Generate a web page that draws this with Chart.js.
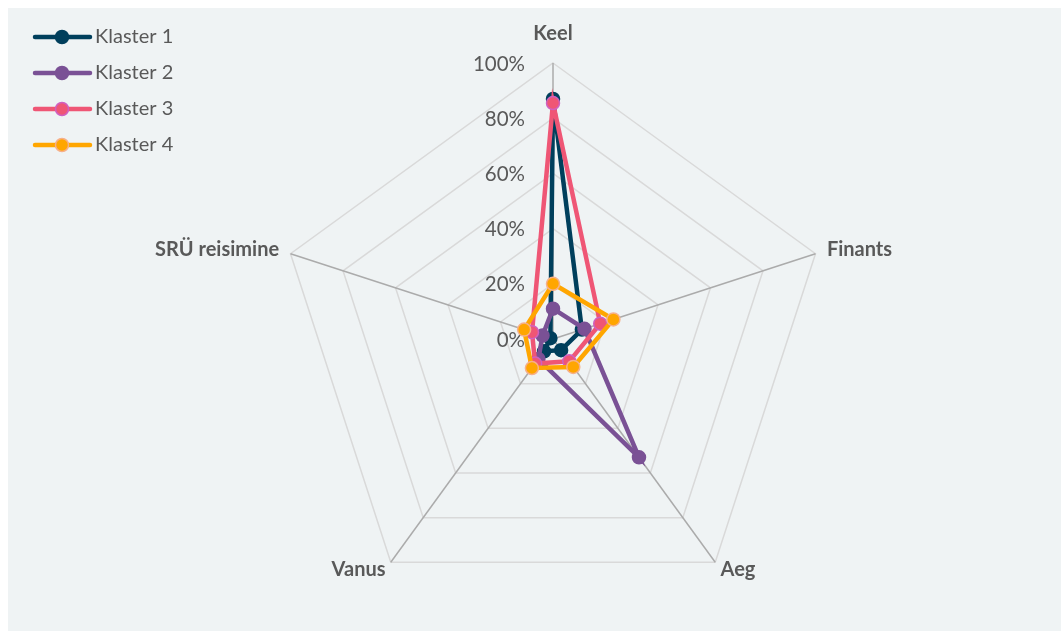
<!DOCTYPE html>
<html>
<head>
<meta charset="utf-8">
<script src="https://cdn.jsdelivr.net/npm/chart.js"></script>
<style>
    body { margin: 0; background: #ffffff; }
    #marco { position: absolute; left: 8px; top: 8px; width: 1053px; height: 623px; background: #eff3f4; }
</style>
</head>
<body>
<div id="marco"><canvas id="grafico-radar"></canvas></div>
<script>
const etiquetas = ['Keel', 'Finants', 'Aeg', 'Vanus', 'SRÜ reisimine'];
const nombresSeries = ['Klaster 1', 'Klaster 2', 'Klaster 3', 'Klaster 4'];
const klaster1 = [87, 11, 5, 5.5, 1];
const klaster2 = [11, 12, 53, 9, 4];
const klaster3 = [85.5, 18, 10, 11, 8];
const klaster4 = [20, 23, 12.5, 13, 11];
const valoresTicks = [0, 20, 40, 60, 80, 100];

document.addEventListener('DOMContentLoaded', function() {
    const colorTexto = '#595959';
    const fuente = 'Lato, "Open Sans", sans-serif';

    // Etiquetas de ejes, ticks y leyenda dibujados a mano
    const textosRadar = {
        id: 'textosRadar',
        beforeDatasetsDraw(chart) {
            const ctx = chart.ctx;
            const r = chart.scales.r;
            ctx.save();
            ctx.fillStyle = colorTexto;
            ctx.textBaseline = 'middle';
            ctx.textAlign = 'right';
            ctx.font = '20.5px ' + fuente;
            valoresTicks.forEach(v => {
                const y = r.yCenter - r.getDistanceFromCenterForValue(v);
                ctx.fillText(v + '%', r.xCenter - 28, y + 1);
            });
            ctx.restore();
        },
        afterDraw(chart) {
            const ctx = chart.ctx;
            const r = chart.scales.r;
            const separacion = [29, 12, 9, 9, 12];
            const alineacion = ['center', 'left', 'left', 'right', 'right'];
            ctx.save();
            ctx.fillStyle = colorTexto;
            ctx.textBaseline = 'middle';
            ctx.font = 'bold 20px ' + fuente;
            etiquetas.forEach((txt, i) => {
                const p = r.getPointPosition(i, r.drawingArea + separacion[i]);
                ctx.textAlign = alineacion[i];
                ctx.fillText(txt, p.x, p.y);
            });

            // Leyenda
            ctx.font = '20px ' + fuente;
            ctx.textAlign = 'left';
            chart.data.datasets.forEach((ds, i) => {
                const y = 29 + 36 * i;
                ctx.strokeStyle = ds.borderColor;
                ctx.lineWidth = 4.5;
                ctx.lineCap = 'round';
                ctx.beginPath();
                ctx.moveTo(27, y);
                ctx.lineTo(82, y);
                ctx.stroke();
                ctx.beginPath();
                ctx.arc(54, y, 6.5, 0, Math.PI * 2);
                ctx.fillStyle = ds.pointBackgroundColor;
                ctx.fill();
                ctx.lineWidth = 1.5;
                ctx.strokeStyle = ds.pointBorderColor;
                ctx.stroke();
                ctx.fillStyle = colorTexto;
                ctx.fillText(ds.label, 87, y);
            });
            ctx.restore();
        }
    };

    const ctx = document.getElementById('grafico-radar').getContext('2d');
    new Chart(ctx, {
        type: 'radar',
        data: {
            labels: etiquetas,
            datasets: [
                {
                    label: nombresSeries[0],
                    data: klaster1,
                    borderColor: '#003f5c',
                    pointBackgroundColor: '#003f5c',
                    pointBorderColor: '#003f5c',
                    order: 4
                },
                {
                    label: nombresSeries[1],
                    data: klaster2,
                    borderColor: '#7a5195',
                    pointBackgroundColor: '#7a5195',
                    pointBorderColor: '#7a5195',
                    order: 3
                },
                {
                    label: nombresSeries[2],
                    data: klaster3,
                    borderColor: '#ef5675',
                    pointBackgroundColor: '#ef5675',
                    pointBorderColor: '#d060c0',
                    order: 2
                },
                {
                    label: nombresSeries[3],
                    data: klaster4,
                    borderColor: '#ffa600',
                    pointBackgroundColor: '#ffa600',
                    pointBorderColor: '#f6b08a',
                    order: 1
                }
            ]
        },
        options: {
            responsive: true,
            maintainAspectRatio: false,
            animation: false,
            layout: {
                padding: { top: 55, bottom: 16, left: 200, right: 163 }
            },
            plugins: {
                legend: { display: false },
                tooltip: { enabled: false }
            },
            elements: {
                line: { borderWidth: 4.5, tension: 0, fill: false },
                point: { radius: 6.5, borderWidth: 1.5 }
            },
            scales: {
                r: {
                    min: 0,
                    max: 100,
                    ticks: { stepSize: 20, display: false },
                    pointLabels: { display: false },
                    grid: { color: '#d9d9d9', lineWidth: 1.5 },
                    angleLines: { color: '#ababab', lineWidth: 1.5 }
                }
            }
        },
        plugins: [textosRadar]
    });
});
</script>
</body>
</html>
